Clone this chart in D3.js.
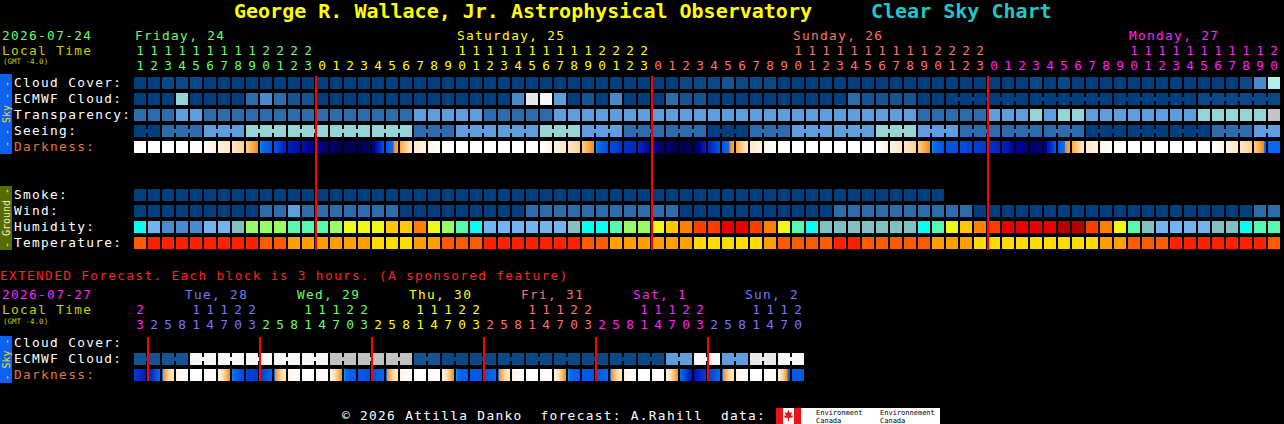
<!DOCTYPE html>
<html><head><meta charset="utf-8">
<script src="https://cdn.jsdelivr.net/npm/d3@7"></script>
<style>
html,body{margin:0;padding:0;background:#000;}
svg{display:block;}
text{font-family:"DejaVu Sans Mono",monospace;white-space:pre;}
</style></head><body>
<svg id="chart" width="1284" height="424"></svg>
<script>
// ---------------- text / categories ----------------
const title = "George R. Wallace, Jr. Astrophysical Observatory";
const subtitle = "Clear Sky Chart";
const startDate = "2026-07-24";
const extStartDate = "2026-07-27";
const tzLabel = "(GMT -4.0)";
const dayLabels = ["Friday, 24","Saturday, 25","Sunday, 26","Monday, 27"];
const dayFirstHour = [11,0,0,0];
const dayLastHour = [23,23,23,20];
const dayColors = ["#66ff66","#ffff00","#ff7070","#ff22ff"];
const extDayLabels = ["","Tue, 28","Wed, 29","Thu, 30","Fri, 31","Sat, 1","Sun, 2"];
const extDayHours = [[23],[2,5,8,11,14,17,20,23],[2,5,8,11,14,17,20,23],[2,5,8,11,14,17,20,23],[2,5,8,11,14,17,20,23],[2,5,8,11,14,17,20,23],[2,5,8,11,14,17,20]];
const extDayColors = ["#ff22ff","#7878ff","#66ff66","#ffff00","#ff7070","#ff22ff","#7878ff"];
const skyRows = ["Cloud Cover:","ECMWF Cloud:","Transparency:","Seeing:","Darkness:"];
const groundRows = ["Smoke:","Wind:","Humidity:","Temperature:"];
const extRows = ["Cloud Cover:","ECMWF Cloud:","Darkness:"];
const extHeading = "EXTENDED Forecast. Each block is 3 hours. (A sponsored feature)";
const footer = "© 2026 Attilla Danko  forecast: A.Rahill  data:";

// ---------------- series (one value per hourly block) ----------------
const cloudCover = [0,0,10,10,10,0,0,0,0,0,0,0,0,0,
 0,0,0,0,0,0,0,0,0,0,0,0,0,0,0,0,0,0,0,0,0,0,
 0,0,0,10,10,10,20,10,10,10,
 0,0,0,0,0,0,0,0,0,0,0,0,0,
 0,0,0,0,0,10,0,10,
 0,0,0,0,0,0,0,0,0,0,0,0,
 10,40,70];
const ecmwfCloud = [0,0,0,60,0,0,0,0,30,40,30,20,20,0,
 0,0,0,0,0,0,0,0,0,0,0,0,0,
 40,90,100,50,0,20,0,40,0,0,
 0,30,20,20,0,0,0,0,0,0,0,0,0,0,
 30,20,20,20,20,0,0,
 0,0,0,0,0,0,0,0,0,0,0,0,0,0,0,0,0,0,
 10,10,10,10,10,10];
const transparency = [4,4,4,3,3,4,4,4,4,4,4,4,4,4,
 4,4,4,4,4,4,3,3,3,3,3,4,4,4,4,4,3,3,3,3,3,3,3,
 3,3,3,3,3,3,3,3,3,3,3,3,3,3,3,3,3,3,3,
 4,4,4,4,4,3,3,3,2,3,2,2,3,3,3,3,3,3,3,3,2,2,2,2,2,1];
const seeing = [5,5,4,4,4,3,3,3,2,2,2,2,2,2,2,2,2,2,2,2,4,4,4,3,3,3,3,3,3,2,2,2,3,3,3,
 4,4,4,4,4,4,5,5,5,4,4,4,3,3,3,3,3,3,2,2,2,3,3,3,
 4,4,4,4,4,4,4,4,4,5,5,5,5,5,5,5,5,5,4,4,4,3,3];
const darkness = [-4,-4,-4,-4,-4,-3.7,-3.0,-2.4,-1.6,0.05,1.2,3.2,3.8,
 4.5,5.0,5.6,5.5,5.2,1.2,-0.6,-2.6,-3.2,-3.7,-4,-4,-4,-4,-4,-4,-3.8,-3.1,-2.4,-1.6,0.05,1.5,2.5,2.8,
 4.2,5.0,5.5,5.6,3.0,1.2,-0.6,-2.6,-3.2,-3.7,-4,-4,-4,-4,-4,-4,-3.8,-3.1,-2.4,-1.6,0.05,1.3,1.5,2.0,
 2.3,3.0,4.2,4.9,4.8,1.0,-0.6,-2.6,-3.2,-3.7,-4,-4,-4,-4,-4,-4,-3.8,-3.1,-2.4,-1.6,0.4];
const smoke = [0,0,0,0,0,0,0,0,0,0,0,0,0,0,0,0,0,0,0,0,0,0,0,0,0,0,0,0,0,0,
 0,0,0,0,0,0,0,0,0,0,0,0,0,0,0,0,0,0,0,0,0,0,0,0,0,0,0,0];
const wind = [3,3,3,3,3,3,3,3,3,8,8,14,8,8,8,8,8,8,8,3,3,3,3,3,3,3,3,3,
 8,8,8,8,8,8,8,8,8,8,8,3,3,3,3,3,3,3,3,3,3,3,8,8,8,8,8,8,8,8,8,8,
 3,3,3,3,3,3,3,3,3,3,3,3,3,3,3,3,3,3,3,3,8,8];
const humidity = [45,30,25,25,25,30,30,40,55,55,55,50,50,50,
 55,65,65,65,70,70,75,65,55,50,45,
 30,30,30,30,30,30,40,45,45,50,55,55,
 65,70,75,80,80,85,85,80,75,65,50,45,
 40,40,40,40,40,40,40,45,50,65,70,75,
 80,85,85,85,85,90,90,80,75,65,50,40,
 30,30,30,30,40,40,45,50,50];
const temperature = [75,80,80,80,80,80,80,80,80,75,75,70,70,70,70,70,70,65,65,65,70,70,
 75,75,75,80,80,80,80,80,80,80,75,75,70,70,70,70,70,70,65,65,65,65,65,70,75,75,75,75,80,80,
 75,75,75,75,75,70,70,70,65,65,65,65,65,65,65,65,65,70,70,75,75,75,80,80,80,80,80,80,80,75];
// extended (3-hour blocks)
const extEcmwfCloud = [20,20,20,20,100,100,100,100,100,100,100,100,100,100,80,80,80,80,80,80,
 20,20,10,10,10,10,10,10,10,10,10,10,10,10,10,10,10,10,50,50,100,100,50,50,90,90,100,100];
const extDarkness = [2.0,3.5,0.3,-3.2,-4,-4,-3.5,0.05,1.8,2.2,0.3,-3.2,-4,-4,-3.5,0.05,1.0,1.5,
 0.3,-3.2,-4,-4,-3.5,0.05,1.0,1.2,0.3,-3.2,-4,-4,-3.5,0.05,1.0,1.2,0.3,-3.2,-4,-4,-3.5,0.05,
 3.8,2.0,0.3,-3.2,-4,-4,-3.5,1.0];

// ---------------- colour scales ----------------
const cloudColor = d3.scaleOrdinal().domain([0,10,20,30,40,50,60,70,80,90,100])
  .range(["#003f7f","#0a4787","#145394","#2c6cac","#4a8acb","#5e9ede","#94d4d4","#b0eeee","#c2c2c2","#e8e8e8","#f6f6f6"]);
const levelColor = d3.scaleOrdinal().domain([5,4,3,2,1,0])
  .range(["#003f7f","#2c6cac","#5e9ede","#94d4d4","#c4c4c4","#f6f6f6"]);
const smokeColor = d3.scaleThreshold().domain([2]).range(["#003f7f","#2c6cac"]);
const windColor = d3.scaleThreshold().domain([6,12,17]).range(["#003f7f","#2c6cac","#5e9ede","#94d4d4"]);
const humColor = d3.scaleThreshold().domain([27,35,42,47,52,60,67,72,77,82,87])
  .range(["#4a8ad0","#72b4f2","#80c0c0","#08fcf0","#56f8b0","#98fc66","#eef81a","#ffc800","#ff8000","#ff3c00","#e80000","#b40000"]);
const tempColor = d3.scaleThreshold().domain([67,72,77]).range(["#ffdc00","#ffa000","#ff5a00","#ff2000"]);
const darkDomain = [-4,-3.5,-3,-2,-1,-0.05,0,0.15,1.5,2.5,3.5,4.3,5,5.6,6.2];
const darkRange = ["#ffffff","#fffaf2","#fff0dc","#ffdcb0","#ffb860","#f09020","#00d8ff","#0a6cf0","#0050dc","#0030c8","#0418b0","#000098","#000070","#000050","#000040"];
const darkColor = d3.scaleLinear().domain(darkDomain).range(darkRange).clamp(true);

// ---------------- columns ----------------
const mainCols = [];
dayLabels.forEach((l,d)=>{ for(let h=dayFirstHour[d]; h<=dayLastHour[d]; h++) mainCols.push({day:d,hour:h}); });
const extCols = [];
extDayHours.forEach((hs,d)=>hs.forEach(h=>extCols.push({day:d,hour:h})));

const CELL0 = 134, STEP = 14;
const FS = 12.8, LS = 1.32;   // font size + letter spacing -> 9px character pitch
const x = d3.scaleBand().domain(d3.range(mainCols.length)).range([CELL0, CELL0+mainCols.length*STEP-2]).paddingInner(2/14).paddingOuter(0);
const xe = d3.scaleBand().domain(d3.range(extCols.length)).range([CELL0, CELL0+extCols.length*STEP-2]).paddingInner(2/14).paddingOuter(0);
const ySky = d3.scaleBand().domain(skyRows).range([77, 77+skyRows.length*16-4]).paddingInner(4/16).paddingOuter(0);
const yGround = d3.scaleBand().domain(groundRows).range([189, 189+groundRows.length*16-4]).paddingInner(4/16).paddingOuter(0);
const yExt = d3.scaleBand().domain(extRows).range([337, 337+extRows.length*16-4]).paddingInner(4/16).paddingOuter(0);

const svg = d3.select("#chart");
svg.append("rect").attr("width",1284).attr("height",424).attr("fill","#000");
const defs = svg.append("defs");

// ---------------- helpers ----------------
function drawCells(xs, y0, h, values, color, join){
  const g = svg.append("g");
  g.selectAll("rect.c").data(values).enter().append("rect").attr("class","c")
    .attr("x",(d,i)=>xs(i)).attr("y",y0).attr("width",xs.bandwidth()).attr("height",h)
    .attr("fill",d=>color(d));
  if(join){
    const links = d3.range(values.length-1).filter(i=>join(i));
    g.selectAll("rect.j").data(links).enter().append("rect").attr("class","j")
      .attr("x",i=>xs(i)+xs.bandwidth()).attr("y",y0+4)
      .attr("width",xs.step()-xs.bandwidth()).attr("height",4)
      .attr("fill",i=>color(values[i]));
  }
}
function gradStops(a,b){
  const stops=[{o:0,c:darkColor(a)},{o:1,c:darkColor(b)}];
  if(a!==b){
    const lo=Math.min(a,b), hi=Math.max(a,b);
    darkDomain.forEach(d=>{ if(d>lo && d<hi) stops.push({o:(d-a)/(b-a), c:darkColor(d)}); });
  }
  return stops.sort((p,q)=>p.o-q.o);
}
function drawDark(xs, y0, h, values, prefix){
  const g = svg.append("g");
  values.forEach((v,i)=>{
    const nxt = i<values.length-1 ? values[i+1] : v;
    const id = prefix+i;
    const lg = defs.append("linearGradient").attr("id",id).attr("x1",0).attr("x2",1).attr("y1",0).attr("y2",0);
    gradStops(v,nxt).forEach(s=>lg.append("stop").attr("offset",s.o).attr("stop-color",s.c));
    g.append("rect").attr("x",xs(i)).attr("y",y0).attr("width",xs.bandwidth()).attr("height",h).attr("fill",`url(#${id})`);
  });
}
function label(txt, xx, yy, fill, size){
  const t = svg.append("text").attr("x",xx).attr("y",yy).attr("fill",fill).attr("font-size",size||FS).text(txt);
  if(!size) t.attr("letter-spacing",LS);
  return t;
}
function hourAxes(xs, cols, colors, yTens, yOnes){
  const onesAxis = d3.axisTop(xs).tickSize(0).tickPadding(0).tickFormat(i=>String(cols[i].hour%10));
  const tensAxis = d3.axisTop(xs).tickSize(0).tickPadding(0)
    .tickValues(d3.range(cols.length).filter(i=>cols[i].hour>=10)).tickFormat(i=>String(Math.floor(cols[i].hour/10)));
  [[onesAxis,yOnes],[tensAxis,yTens]].forEach(([ax,yy])=>{
    const g = svg.append("g").attr("transform",`translate(0,${yy})`).call(ax);
    g.select(".domain").remove();
    g.attr("font-family","DejaVu Sans Mono, monospace").attr("font-size",FS);
    g.selectAll("text").attr("fill",i=>colors[cols[i].day]).attr("dy",0).attr("y",0);
  });
}
function sideBar(y0, h, fill, txt, tfill){
  svg.append("rect").attr("x",0).attr("y",y0).attr("width",12).attr("height",h).attr("fill",fill);
  svg.append("text").attr("transform",`translate(9.5,${y0+h/2}) rotate(-90)`).attr("text-anchor","middle")
    .attr("font-size",10).attr("fill",tfill).text(txt);
}

// ---------------- title ----------------
svg.append("text").attr("x",234).attr("y",18).attr("fill","#ffff00").attr("font-size",20).attr("font-weight","bold").text(title);
svg.append("text").attr("x",871).attr("y",18).attr("fill","#1ec8c8").attr("font-size",20).attr("font-weight","bold").text(subtitle);

// ---------------- main header ----------------
label(startDate, 2, 40, dayColors[0]);
label("Local Time", 2, 55, "#cccc00");
label(tzLabel, 3, 64, "#cccc00", 7.5);
dayLabels.forEach((l,d)=>{
  const i = mainCols.findIndex(c=>c.day===d && c.hour>=10);
  label(l, x(i)+1, 40, dayColors[d]);
});
hourAxes(x, mainCols, dayColors, 55, 70);

// ---------------- sky rows ----------------
sideBar(74, 80, "#0b62ee", "- - Sky - -", "#f0e020");
skyRows.forEach(r=>label(r, 14, ySky(r)+10, r==="Darkness:"?"#e0783c":"#ffffff"));
const h = ySky.bandwidth();
drawCells(x, ySky("Cloud Cover:"), h, cloudCover, cloudColor);
drawCells(x, ySky("ECMWF Cloud:"), h, ecmwfCloud, cloudColor, i=>i>=58 && mainCols[i+1].hour%6!==3);
drawCells(x, ySky("Transparency:"), h, transparency, levelColor);
drawCells(x, ySky("Seeing:"), h, seeing, levelColor, i=>mainCols[i+1].hour%3!==1);
drawDark(x, ySky("Darkness:"), h, darkness, "dk");

// ---------------- ground rows ----------------
sideBar(186, 64, "#566c00", "- Ground -", "#f0f0c0");
groundRows.forEach(r=>label(r, 14, yGround(r)+10, "#ffffff"));
drawCells(x, yGround("Smoke:"), h, smoke, smokeColor);
drawCells(x, yGround("Wind:"), h, wind, windColor);
drawCells(x, yGround("Humidity:"), h, humidity, humColor);
drawCells(x, yGround("Temperature:"), h, temperature, tempColor);

// midnight lines (main)
const mainMidnights = d3.range(1, mainCols.length).filter(i=>mainCols[i].day!==mainCols[i-1].day);
svg.append("g").selectAll("rect").data(mainMidnights).enter().append("rect")
  .attr("x",i=>x(i)-1).attr("y",76).attr("width",2).attr("height",174).attr("fill","#ff0000");

// ---------------- extended ----------------
label(extHeading, 0, 280, "#ff2020");
label(extStartDate, 2, 299, extDayColors[0]);
label("Local Time", 2, 314, "#cccc00");
label(tzLabel, 3, 324, "#cccc00", 7.5);
extDayLabels.forEach((l,d)=>{
  if(!l) return;
  const i = extCols.findIndex(c=>c.day===d && c.hour===8);
  label(l, xe(i)+9, 299, extDayColors[d]);
});
hourAxes(xe, extCols, extDayColors, 314, 329);
sideBar(336, 47, "#0b62ee", "- Sky -", "#f0e020");
extRows.forEach(r=>label(r, 14, yExt(r)+10, r==="Darkness:"?"#e0783c":"#ffffff"));
drawCells(xe, yExt("ECMWF Cloud:"), h, extEcmwfCloud, cloudColor, i=>extCols[i].hour%6===5);
drawDark(xe, yExt("Darkness:"), h, extDarkness, "edk");
const extMidnights = d3.range(1, extCols.length).filter(i=>extCols[i].day!==extCols[i-1].day);
svg.append("g").selectAll("rect").data(extMidnights).enter().append("rect")
  .attr("x",i=>xe(i)-1).attr("y",337).attr("width",2).attr("height",44).attr("fill","#ff0000");

// ---------------- footer ----------------
label(footer, 342, 420, "#ffffff");
const logo = svg.append("g");
logo.append("rect").attr("x",776).attr("y",408).attr("width",164).attr("height",16).attr("fill","#ffffff");
logo.append("rect").attr("x",776).attr("y",408).attr("width",7).attr("height",16).attr("fill","#e8141c");
logo.append("rect").attr("x",794).attr("y",408).attr("width",7).attr("height",16).attr("fill","#e8141c");
logo.append("path").attr("d","M788.5,410 L790,413 L792,412 L791,416 L793,415.5 L792.5,417.5 L789,418 L789,421 L788,421 L788,418 L784.5,417.5 L784,415.5 L786,416 L785,412 L787,413 Z").attr("fill","#e8141c");
[["Environment",816],["Environnement",880]].forEach(([t,xx])=>{
  logo.append("text").attr("x",xx).attr("y",415).attr("font-size",7).attr("fill","#000").text(t);
  logo.append("text").attr("x",xx).attr("y",423).attr("font-size",7).attr("fill","#000").text("Canada");
});
</script>
</body></html>
